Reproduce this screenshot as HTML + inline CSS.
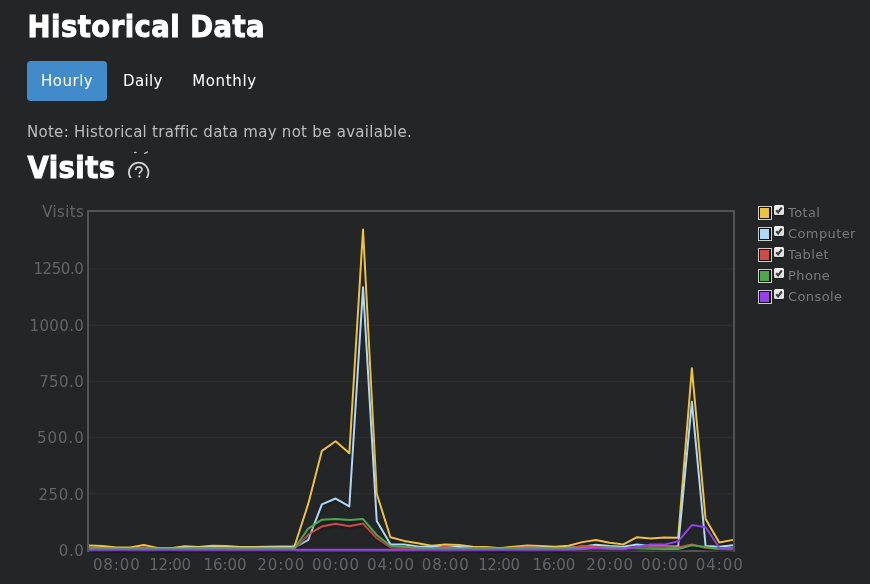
<!DOCTYPE html>
<html><head><meta charset="utf-8"><title>Historical Data</title>
<style>
*{margin:0;padding:0;box-sizing:border-box}
html,body{width:870px;height:584px;overflow:hidden;background:#232527}
body{position:relative;font-family:"Liberation Sans",sans-serif;color:#fff}
h1{position:absolute;left:27.6px;top:5.2px;font:bold 27.5px/40px "DejaVu Sans",sans-serif;letter-spacing:0.45px;color:#fff;white-space:nowrap;-webkit-text-stroke:0.9px #fff;transform:scaleY(1.07);transform-origin:0 0}
.tabbg{position:absolute;left:27px;top:61px;width:80px;height:40px;border-radius:4px;background:#428bca}
.tab{position:absolute;top:61.4px;height:40px;font:15px/40px "DejaVu Sans",sans-serif;color:#fff;white-space:nowrap}
.note{position:absolute;left:27px;top:121.5px;font:15px/20px "DejaVu Sans",sans-serif;letter-spacing:0.28px;font-variant-ligatures:none;color:#bdbdbd;white-space:nowrap}
h2{position:absolute;left:27.4px;top:146.4px;font:bold 27.5px/40px "DejaVu Sans",sans-serif;letter-spacing:0.45px;color:#fff;white-space:nowrap;-webkit-text-stroke:0.9px #fff;transform:scaleY(1.07);transform-origin:0 0}
.help{position:absolute;left:127px;top:150px;width:24px;height:28px;overflow:hidden}
.yl{position:absolute;font:15px/18px "DejaVu Sans",sans-serif;color:#646464;white-space:nowrap;text-align:right}
.xl{position:absolute;top:556px;width:60px;text-align:center;font:15px/18px "DejaVu Sans",sans-serif;color:#646464;white-space:nowrap}
.plot{position:absolute;left:87px;top:210px;width:648px;height:342px;border:2px solid #5c5c5c}
svg.chart{position:absolute;left:0;top:0}
.lg{position:absolute;left:758px;height:14px;white-space:nowrap}
.sw{position:absolute;left:0;top:0;width:14px;height:14px;border:1px solid #ccc;padding:1px;background:#141414}
.sw div{width:9.3px;height:10px}
.cb{position:absolute;left:16px;top:-1px;width:10px;height:10.4px;background:linear-gradient(#f1f1f1,#dadada);border-radius:1.5px;box-shadow:0 1px 1px rgba(0,0,0,.45)}
.cb svg{position:absolute;left:0;top:0}
.lg span{position:absolute;left:30px;top:-1px;font:13px/16px "DejaVu Sans",sans-serif;letter-spacing:0.4px;color:#7a7a7a}
</style></head><body>
<h1>Historical Data</h1>
<div class="tabbg"></div><div class="tab" style="left:41px;letter-spacing:0.5px">Hourly</div><div class="tab" style="left:123px;letter-spacing:0.38px">Daily</div><div class="tab" style="left:192.2px;letter-spacing:0.65px">Monthly</div>
<div class="note">Note: Historical traffic data may not be available.</div>
<h2>Visits</h2>
<div class="help"><svg width="24" height="28" viewBox="0 0 24 28">
<circle cx="11.7" cy="22.5" r="9.8" fill="none" stroke="#cfcfcf" stroke-width="1.8"/>
<path d="M8.7 19.9 C8.7 17.8 10.1 16.8 11.8 16.8 C13.6 16.8 15 17.9 15 19.5 C15 21.5 12.3 21.8 12.3 24.1" fill="none" stroke="#cfcfcf" stroke-width="1.7"/>
<circle cx="12.3" cy="26.4" r="1.05" fill="#cfcfcf"/>
<ellipse cx="8.4" cy="2.45" rx="1.5" ry="0.75" fill="#c8c8c8"/><line x1="17.8" y1="3.4" x2="20.4" y2="2.0" stroke="#c8c8c8" stroke-width="1.3" stroke-linecap="round"/>
</svg></div>
<svg class="chart" width="870" height="584" viewBox="0 0 870 584">
<line x1="89" x2="733" y1="493.80" y2="493.80" stroke="#2c2d2f" stroke-width="1.5"/>
<line x1="89" x2="733" y1="437.60" y2="437.60" stroke="#2c2d2f" stroke-width="1.5"/>
<line x1="89" x2="733" y1="381.40" y2="381.40" stroke="#2c2d2f" stroke-width="1.5"/>
<line x1="89" x2="733" y1="325.20" y2="325.20" stroke="#2c2d2f" stroke-width="1.5"/>
<line x1="89" x2="733" y1="269.00" y2="269.00" stroke="#2c2d2f" stroke-width="1.5"/>
<rect x="88" y="211" width="646" height="340" fill="none" stroke="#535353" stroke-width="2"/>
<polyline points="89.43,547.97 103.14,548.42 116.84,549.99 130.54,549.99 144.24,547.52 157.94,550.44 171.65,550.66 185.35,548.75 199.05,549.47 212.75,548.19 226.45,548.42 240.16,549.54 253.86,549.47 267.56,549.27 281.26,549.07 294.96,548.78 308.67,506.38 322.37,453.33 336.07,443.66 349.77,455.80 363.47,231.90 377.18,496.26 390.88,539.65 404.58,543.36 418.28,545.76 431.98,548.19 445.69,546.95 459.39,547.52 473.09,549.09 486.79,549.54 500.49,550.66 514.20,549.16 527.90,548.08 541.60,548.46 555.30,549.27 569.00,548.19 582.71,544.59 596.41,542.46 610.11,545.27 623.81,546.84 637.51,539.65 651.22,541.06 664.92,540.05 678.62,540.10 692.32,370.82 706.02,521.44 719.73,545.04 733.43,542.35" fill="none" stroke="rgba(0,0,0,0.1)" stroke-width="3" stroke-linejoin="round"/><polyline points="89.30,547.23 103.01,547.68 116.71,549.25 130.41,549.25 144.11,546.78 157.81,549.70 171.52,549.93 185.22,548.01 198.92,548.73 212.62,547.45 226.32,547.68 240.03,548.80 253.73,548.73 267.43,548.53 281.13,548.33 294.83,548.04 308.54,505.64 322.24,452.59 335.94,442.92 349.64,455.06 363.34,231.16 377.05,495.52 390.75,538.91 404.45,542.62 418.15,545.02 431.85,547.45 445.56,546.22 459.26,546.78 472.96,548.35 486.66,548.80 500.36,549.93 514.07,548.42 527.77,547.34 541.47,547.72 555.17,548.53 568.87,547.45 582.58,543.86 596.28,541.72 609.98,544.53 623.68,546.10 637.38,538.91 651.09,540.33 664.79,539.31 678.49,539.36 692.19,370.09 705.89,520.70 719.60,544.31 733.30,541.61" fill="none" stroke="rgba(0,0,0,0.1)" stroke-width="1.5" stroke-linejoin="round"/><polyline points="89.00,545.50 102.70,545.95 116.40,547.53 130.11,547.53 143.81,545.05 157.51,547.98 171.21,548.20 184.91,546.29 198.62,547.01 212.32,545.73 226.02,545.95 239.72,547.08 253.42,547.01 267.13,546.81 280.83,546.61 294.53,546.31 308.23,503.92 321.93,450.86 335.64,441.20 349.34,453.34 363.04,229.44 376.74,493.80 390.44,537.19 404.15,540.90 417.85,543.30 431.55,545.73 445.25,544.49 458.95,545.05 472.66,546.63 486.36,547.08 500.06,548.20 513.76,546.70 527.46,545.62 541.17,546.00 554.87,546.81 568.57,545.73 582.27,542.13 595.97,540.00 609.68,542.81 623.38,544.38 637.08,537.19 650.78,538.60 664.48,537.59 678.19,537.64 691.89,368.36 705.59,518.98 719.29,542.58 732.99,539.88" fill="none" stroke="#edc240" stroke-width="2" stroke-linejoin="round"/>
<polyline points="89.43,550.66 103.14,550.66 116.84,550.66 130.54,550.66 144.24,550.66 157.94,550.89 171.65,550.66 185.35,549.99 199.05,550.21 212.75,549.99 226.45,550.21 240.16,550.21 253.86,550.21 267.56,549.99 281.26,549.99 294.96,549.99 308.67,542.35 322.37,506.83 336.07,500.98 349.77,508.85 363.47,289.67 377.18,523.46 390.88,546.62 404.58,546.84 418.28,548.87 431.98,549.54 445.69,549.54 459.39,549.54 473.09,550.21 486.79,550.44 500.49,550.89 514.20,550.44 527.90,550.21 541.60,550.06 555.30,550.44 569.00,550.21 582.71,549.31 596.41,547.29 610.11,548.37 623.81,549.09 637.51,546.95 651.22,548.64 664.92,548.64 678.62,548.87 692.32,404.32 706.02,548.42 719.73,549.16 733.43,547.74" fill="none" stroke="rgba(0,0,0,0.1)" stroke-width="3" stroke-linejoin="round"/><polyline points="89.30,549.93 103.01,549.93 116.71,549.93 130.41,549.93 144.11,549.93 157.81,550.15 171.52,549.93 185.22,549.25 198.92,549.48 212.62,549.25 226.32,549.48 240.03,549.48 253.73,549.48 267.43,549.25 281.13,549.25 294.83,549.25 308.54,541.61 322.24,506.09 335.94,500.24 349.64,508.11 363.34,288.93 377.05,522.72 390.75,545.88 404.45,546.10 418.15,548.13 431.85,548.80 445.56,548.80 459.26,548.80 472.96,549.48 486.66,549.70 500.36,550.15 514.07,549.70 527.77,549.48 541.47,549.32 555.17,549.70 568.87,549.48 582.58,548.58 596.28,546.55 609.98,547.63 623.68,548.35 637.38,546.22 651.09,547.90 664.79,547.90 678.49,548.13 692.19,403.58 705.89,547.68 719.60,548.42 733.30,547.00" fill="none" stroke="rgba(0,0,0,0.1)" stroke-width="1.5" stroke-linejoin="round"/><polyline points="89.00,548.20 102.70,548.20 116.40,548.20 130.11,548.20 143.81,548.20 157.51,548.43 171.21,548.20 184.91,547.53 198.62,547.75 212.32,547.53 226.02,547.75 239.72,547.75 253.42,547.75 267.13,547.53 280.83,547.53 294.53,547.53 308.23,539.88 321.93,504.37 335.64,498.52 349.34,506.39 363.04,287.21 376.74,521.00 390.44,544.16 404.15,544.38 417.85,546.40 431.55,547.08 445.25,547.08 458.95,547.08 472.66,547.75 486.36,547.98 500.06,548.43 513.76,547.98 527.46,547.75 541.17,547.59 554.87,547.98 568.57,547.75 582.27,546.85 595.97,544.83 609.68,545.91 623.38,546.63 637.08,544.49 650.78,546.18 664.48,546.18 678.19,546.40 691.89,401.86 705.59,545.95 719.29,546.70 732.99,545.28" fill="none" stroke="#afd8f8" stroke-width="2" stroke-linejoin="round"/>
<polyline points="89.43,551.11 103.14,551.11 116.84,551.34 130.54,551.34 144.24,549.65 157.94,551.34 171.65,551.56 185.35,551.34 199.05,551.34 212.75,551.34 226.45,551.34 240.16,551.34 253.86,551.34 267.56,551.34 281.26,551.34 294.96,551.34 308.67,537.06 322.37,528.86 336.07,526.16 349.77,528.63 363.47,525.94 377.18,540.66 390.88,549.85 404.58,550.66 418.28,551.11 431.98,551.11 445.69,549.09 459.39,551.11 473.09,551.34 486.79,551.34 500.49,551.56 514.20,550.55 527.90,549.85 541.60,550.21 555.30,551.34 569.00,551.11 582.71,548.26 596.41,549.09 610.11,550.44 623.81,550.66 637.51,549.65 651.22,549.65 664.92,549.65 678.62,550.06 692.32,546.84 706.02,550.44 719.73,551.56 733.43,551.79" fill="none" stroke="rgba(0,0,0,0.1)" stroke-width="3" stroke-linejoin="round"/><polyline points="89.30,550.37 103.01,550.37 116.71,550.60 130.41,550.60 144.11,548.91 157.81,550.60 171.52,550.82 185.22,550.60 198.92,550.60 212.62,550.60 226.32,550.60 240.03,550.60 253.73,550.60 267.43,550.60 281.13,550.60 294.83,550.60 308.54,536.32 322.24,528.12 335.94,525.42 349.64,527.89 363.34,525.20 377.05,539.92 390.75,549.12 404.45,549.93 418.15,550.37 431.85,550.37 445.56,548.35 459.26,550.37 472.96,550.60 486.66,550.60 500.36,550.82 514.07,549.81 527.77,549.12 541.47,549.48 555.17,550.60 568.87,550.37 582.58,547.52 596.28,548.35 609.98,549.70 623.68,549.93 637.38,548.91 651.09,548.91 664.79,548.91 678.49,549.32 692.19,546.10 705.89,549.70 719.60,550.82 733.30,551.05" fill="none" stroke="rgba(0,0,0,0.1)" stroke-width="1.5" stroke-linejoin="round"/><polyline points="89.00,548.65 102.70,548.65 116.40,548.88 130.11,548.88 143.81,547.19 157.51,548.88 171.21,549.10 184.91,548.88 198.62,548.88 212.32,548.88 226.02,548.88 239.72,548.88 253.42,548.88 267.13,548.88 280.83,548.88 294.53,548.88 308.23,534.60 321.93,526.40 335.64,523.70 349.34,526.17 363.04,523.47 376.74,538.20 390.44,547.39 404.15,548.20 417.85,548.65 431.55,548.65 445.25,546.63 458.95,548.65 472.66,548.88 486.36,548.88 500.06,549.10 513.76,548.09 527.46,547.39 541.17,547.75 554.87,548.88 568.57,548.65 582.27,545.80 595.97,546.63 609.68,547.98 623.38,548.20 637.08,547.19 650.78,547.19 664.48,547.19 678.19,547.59 691.89,544.38 705.59,547.98 719.29,549.10 732.99,549.33" fill="none" stroke="#cb4b4b" stroke-width="2" stroke-linejoin="round"/>
<polyline points="89.43,550.26 103.14,550.46 116.84,550.89 130.54,550.89 144.24,550.96 157.94,550.89 171.65,550.89 185.35,550.66 199.05,550.55 212.75,550.55 226.45,550.55 240.16,550.66 253.86,550.66 267.56,550.66 281.26,550.66 294.96,550.66 308.67,531.11 322.37,522.11 336.07,521.44 349.77,522.56 363.47,521.55 377.18,537.47 390.88,548.19 404.58,549.31 418.28,550.26 431.98,550.89 445.69,550.89 459.39,550.89 473.09,550.44 486.79,550.44 500.49,550.89 514.20,550.89 527.90,550.66 541.60,550.66 555.30,550.66 569.00,550.44 582.71,550.44 596.41,550.44 610.11,549.76 623.81,550.44 637.51,551.07 651.22,551.23 664.92,551.45 678.62,551.56 692.32,547.74 706.02,549.43 719.73,551.56 733.43,551.79" fill="none" stroke="rgba(0,0,0,0.1)" stroke-width="3" stroke-linejoin="round"/><polyline points="89.30,549.52 103.01,549.72 116.71,550.15 130.41,550.15 144.11,550.22 157.81,550.15 171.52,550.15 185.22,549.93 198.92,549.81 212.62,549.81 226.32,549.81 240.03,549.93 253.73,549.93 267.43,549.93 281.13,549.93 294.83,549.93 308.54,530.37 322.24,521.38 335.94,520.70 349.64,521.83 363.34,520.81 377.05,536.73 390.75,547.45 404.45,548.58 418.15,549.52 431.85,550.15 445.56,550.15 459.26,550.15 472.96,549.70 486.66,549.70 500.36,550.15 514.07,550.15 527.77,549.93 541.47,549.93 555.17,549.93 568.87,549.70 582.58,549.70 596.28,549.70 609.98,549.03 623.68,549.70 637.38,550.33 651.09,550.49 664.79,550.71 678.49,550.82 692.19,547.00 705.89,548.69 719.60,550.82 733.30,551.05" fill="none" stroke="rgba(0,0,0,0.1)" stroke-width="1.5" stroke-linejoin="round"/><polyline points="89.00,547.80 102.70,548.00 116.40,548.43 130.11,548.43 143.81,548.49 157.51,548.43 171.21,548.43 184.91,548.20 198.62,548.09 212.32,548.09 226.02,548.09 239.72,548.20 253.42,548.20 267.13,548.20 280.83,548.20 294.53,548.20 308.23,528.64 321.93,519.65 335.64,518.98 349.34,520.10 363.04,519.09 376.74,535.01 390.44,545.73 404.15,546.85 417.85,547.80 431.55,548.43 445.25,548.43 458.95,548.43 472.66,547.98 486.36,547.98 500.06,548.43 513.76,548.43 527.46,548.20 541.17,548.20 554.87,548.20 568.57,547.98 582.27,547.98 595.97,547.98 609.68,547.30 623.38,547.98 637.08,548.61 650.78,548.76 664.48,548.99 678.19,549.10 691.89,545.28 705.59,546.97 719.29,549.10 732.99,549.33" fill="none" stroke="#4da74d" stroke-width="2" stroke-linejoin="round"/>
<polyline points="89.43,552.24 103.14,552.24 116.84,552.24 130.54,552.24 144.24,552.24 157.94,552.24 171.65,552.24 185.35,552.24 199.05,552.24 212.75,552.24 226.45,552.24 240.16,552.24 253.86,552.24 267.56,552.24 281.26,552.24 294.96,552.24 308.67,552.24 322.37,552.24 336.07,552.24 349.77,552.24 363.47,552.24 377.18,552.24 390.88,552.24 404.58,552.24 418.28,552.24 431.98,552.24 445.69,552.24 459.39,552.24 473.09,552.24 486.79,552.24 500.49,552.24 514.20,552.24 527.90,552.24 541.60,552.24 555.30,552.24 569.00,552.24 582.71,551.68 596.41,550.75 610.11,551.45 623.81,551.77 637.51,549.36 651.22,547.07 664.92,547.07 678.62,543.76 692.32,527.51 706.02,529.76 719.73,550.21 733.43,550.44" fill="none" stroke="rgba(0,0,0,0.1)" stroke-width="3" stroke-linejoin="round"/><polyline points="89.30,551.50 103.01,551.50 116.71,551.50 130.41,551.50 144.11,551.50 157.81,551.50 171.52,551.50 185.22,551.50 198.92,551.50 212.62,551.50 226.32,551.50 240.03,551.50 253.73,551.50 267.43,551.50 281.13,551.50 294.83,551.50 308.54,551.50 322.24,551.50 335.94,551.50 349.64,551.50 363.34,551.50 377.05,551.50 390.75,551.50 404.45,551.50 418.15,551.50 431.85,551.50 445.56,551.50 459.26,551.50 472.96,551.50 486.66,551.50 500.36,551.50 514.07,551.50 527.77,551.50 541.47,551.50 555.17,551.50 568.87,551.50 582.58,550.94 596.28,550.01 609.98,550.71 623.68,551.03 637.38,548.62 651.09,546.33 664.79,546.33 678.49,543.02 692.19,526.77 705.89,529.02 719.60,549.48 733.30,549.70" fill="none" stroke="rgba(0,0,0,0.1)" stroke-width="1.5" stroke-linejoin="round"/><polyline points="89.00,549.78 102.70,549.78 116.40,549.78 130.11,549.78 143.81,549.78 157.51,549.78 171.21,549.78 184.91,549.78 198.62,549.78 212.32,549.78 226.02,549.78 239.72,549.78 253.42,549.78 267.13,549.78 280.83,549.78 294.53,549.78 308.23,549.78 321.93,549.78 335.64,549.78 349.34,549.78 363.04,549.78 376.74,549.78 390.44,549.78 404.15,549.78 417.85,549.78 431.55,549.78 445.25,549.78 458.95,549.78 472.66,549.78 486.36,549.78 500.06,549.78 513.76,549.78 527.46,549.78 541.17,549.78 554.87,549.78 568.57,549.78 582.27,549.21 595.97,548.29 609.68,548.99 623.38,549.30 637.08,546.90 650.78,544.60 664.48,544.60 678.19,541.30 691.89,525.05 705.59,527.30 719.29,547.75 732.99,547.98" fill="none" stroke="#9440ed" stroke-width="2" stroke-linejoin="round"/>
</svg>
<div class="yl" style="top:202.6px;right:785.85px;letter-spacing:0.35px">Visits</div>
<div class="yl" style="top:260.2px;right:786.64px;letter-spacing:-0.44px">1250.0</div>
<div class="yl" style="top:316.5px;right:785.84px;letter-spacing:0.36px">1000.0</div>
<div class="yl" style="top:372.8px;right:785.77px;letter-spacing:0.43px">750.0</div>
<div class="yl" style="top:429.2px;right:785.25px;letter-spacing:0.95px">500.0</div>
<div class="yl" style="top:485.5px;right:785.60px;letter-spacing:0.6px">250.0</div>
<div class="yl" style="top:541.8px;right:785.60px;letter-spacing:0.6px">0.0</div>
<div class="xl" style="left:86.88px;letter-spacing:0.95px">08:00</div>
<div class="xl" style="left:140.03px;letter-spacing:-0.37px">12:00</div>
<div class="xl" style="left:194.97px;letter-spacing:-0.1px">16:00</div>
<div class="xl" style="left:251.30px;letter-spacing:0.95px">20:00</div>
<div class="xl" style="left:306.11px;letter-spacing:0.95px">00:00</div>
<div class="xl" style="left:360.92px;letter-spacing:0.95px">04:00</div>
<div class="xl" style="left:415.73px;letter-spacing:0.95px">08:00</div>
<div class="xl" style="left:468.88px;letter-spacing:-0.37px">12:00</div>
<div class="xl" style="left:523.82px;letter-spacing:-0.1px">16:00</div>
<div class="xl" style="left:580.15px;letter-spacing:0.95px">20:00</div>
<div class="xl" style="left:634.96px;letter-spacing:0.95px">00:00</div>
<div class="xl" style="left:689.77px;letter-spacing:0.95px">04:00</div>
<div class="lg" style="top:206px"><div class="sw"><div style="background:#edc240"></div></div><div class="cb"><svg width="10" height="10" viewBox="0 0 10 10"><path d="M2.2 5.3 L4.1 7.3 L7.8 2.5" fill="none" stroke="#3c3c3c" stroke-width="2.1"/></svg></div><span>Total</span></div>
<div class="lg" style="top:227px"><div class="sw"><div style="background:#afd8f8"></div></div><div class="cb"><svg width="10" height="10" viewBox="0 0 10 10"><path d="M2.2 5.3 L4.1 7.3 L7.8 2.5" fill="none" stroke="#3c3c3c" stroke-width="2.1"/></svg></div><span>Computer</span></div>
<div class="lg" style="top:248px"><div class="sw"><div style="background:#cb4b4b"></div></div><div class="cb"><svg width="10" height="10" viewBox="0 0 10 10"><path d="M2.2 5.3 L4.1 7.3 L7.8 2.5" fill="none" stroke="#3c3c3c" stroke-width="2.1"/></svg></div><span>Tablet</span></div>
<div class="lg" style="top:269px"><div class="sw"><div style="background:#4da74d"></div></div><div class="cb"><svg width="10" height="10" viewBox="0 0 10 10"><path d="M2.2 5.3 L4.1 7.3 L7.8 2.5" fill="none" stroke="#3c3c3c" stroke-width="2.1"/></svg></div><span>Phone</span></div>
<div class="lg" style="top:290px"><div class="sw"><div style="background:#9440ed"></div></div><div class="cb"><svg width="10" height="10" viewBox="0 0 10 10"><path d="M2.2 5.3 L4.1 7.3 L7.8 2.5" fill="none" stroke="#3c3c3c" stroke-width="2.1"/></svg></div><span>Console</span></div>
</body></html>
